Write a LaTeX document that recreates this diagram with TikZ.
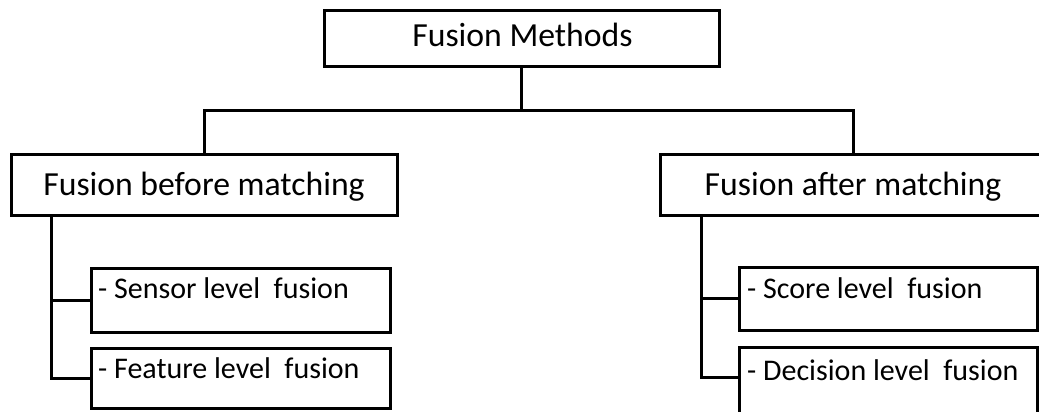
\documentclass[tikz,border=0pt]{standalone}
\usepackage{fontspec}
\setmainfont{Carlito}
\begin{document}
\begin{tikzpicture}[x=1pt,y=-1pt,
  box/.style={draw=black, line width=3pt, fill=white, inner sep=0pt, minimum width=#1},
  lbl/.style={inner sep=0pt, font=\fontsize{30}{36}\selectfont},
  biglbl/.style={inner sep=0pt, font=\fontsize{33.7}{40}\selectfont},
  conn/.style={draw=black, line width=3pt, line cap=rect}]
\useasboundingbox (0,0) rectangle (1039,412);
\clip (0,0) rectangle (1039,412);
% boxes
\node[box=395pt, minimum height=56pt] (fm) at (521.5,39) {};
\node[box=386pt, minimum height=61pt] (fb) at (204,184.5) {};
\node[box=386pt, minimum height=61pt] (fa) at (853,184.5) {};
\node[box=299pt, minimum height=64pt] (sens) at (240.5,300) {};
\node[box=299pt, minimum height=60pt] (feat) at (240.5,378) {};
\node[box=298pt, minimum height=63pt] (score) at (888,298.5) {};
\node[box=298pt, minimum height=80pt] (dec) at (888,387) {};
% labels
\node[biglbl, anchor=base] (fmt) at (522.5,47) {Fusion Methods};
\node[biglbl, anchor=base] (fbt) at (204,195) {Fusion before matching};
\node[biglbl, anchor=base] (fat) at (853,195) {Fusion after matching};
\node[lbl, anchor=base west] (senst) at (98,298) {- Sensor level\ \ fusion};
\node[lbl, anchor=base west] (featt) at (98,378) {- Feature level\ \ fusion};
\node[lbl, anchor=base west] (scoret) at (747,298) {- Score level\ \ fusion};
\node[lbl, anchor=base west] (dect) at (747,380) {- Decision level\ \ fusion};
% connectors
\coordinate (bus) at (521.5,110);
\coordinate (ls) at (51,215);
\coordinate (rs) at (701,215);
\coordinate (decin) at (739,377);
\draw[conn] (fm.south) -- (bus);
\draw[conn] (fb.north) |- (bus) -| (fa.north);
\draw[conn] (ls) |- (feat.west);
\draw[conn] (ls |- sens.west) -- (sens.west);
\draw[conn] (rs) |- (decin);
\draw[conn] (rs |- score.west) -- (score.west);
\end{tikzpicture}
\end{document}
